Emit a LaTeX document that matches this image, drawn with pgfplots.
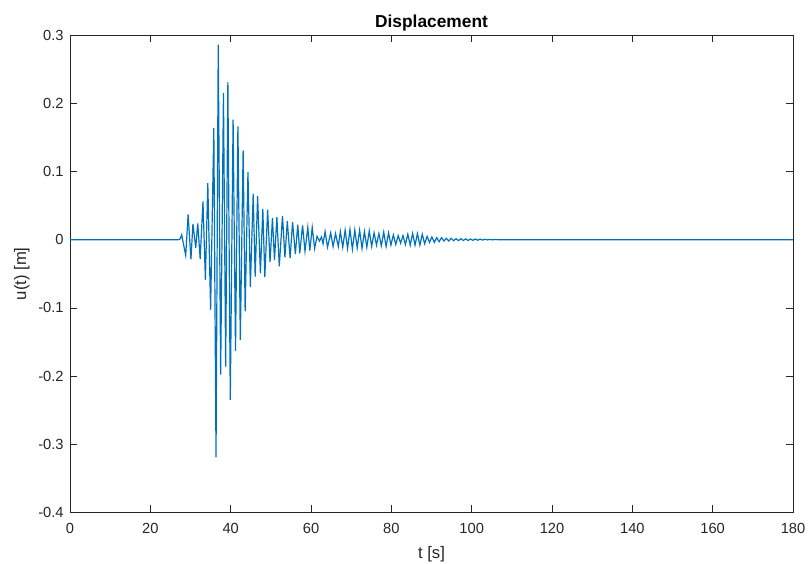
\documentclass[border=0pt]{standalone}
\usepackage{fontspec}
\setmainfont{Liberation Sans}
\usepackage{pgfplots}
\pgfplotsset{compat=1.18}
\definecolor{mblue}{rgb}{0,0.447,0.741}
\definecolor{axgray}{rgb}{0.15,0.15,0.15}
\begin{document}
\fontsize{11}{13}\selectfont
\begin{tikzpicture}
\path[use as bounding box] (-52.5pt,-38.25pt) rectangle (553.25pt,384.25pt);
\begin{axis}[
  at={(0,0)}, anchor=south west,
  scale only axis, width=542pt, height=358pt,
  xmin=0, xmax=180, ymin=-0.4, ymax=0.3,
  xtick={0,20,...,180},
  xticklabels={0,20,40,60,80,100,120,140,160,180},
  ytick={-0.4,-0.3,-0.2,-0.1,0,0.1,0.2,0.3},
  yticklabels={-0.4,-0.3,-0.2,-0.1,0,0.1,0.2,0.3},
  tick align=inside,
  major tick length=5.5pt,
  axis line style={axgray, line width=0.5pt},
  every tick/.style={axgray, line width=0.5pt},
  tick label style={font=\fontsize{11}{13}\selectfont, text=axgray},
  xticklabel style={yshift=-4pt},
  yticklabel style={xshift=-1pt},
  title={\bfseries Displacement},
  title style={font=\fontsize{13}{15}\selectfont, at={(0.5,1)}, anchor=base, yshift=-0.5pt},
  xlabel={t [s]},
  ylabel={u(t) [m]},
  xlabel style={font=\fontsize{12.5}{14}\selectfont, text=axgray, yshift=-2pt},
  ylabel style={font=\fontsize{12.5}{14}\selectfont, text=axgray, yshift=-1pt},
]
\addplot[mblue, line width=0.9pt] coordinates {
(0,0) (27.0,0) (27.4,0.001) (27.8,0.007) (28.8,-0.023) (29.4,0.037) (30.1,-0.029)
(30.6,0.023) (31.3,-0.012) (31.8,0.024) (32.4,-0.028) (33.1,0.056) (33.7,-0.059)
(34.3,0.083) (35.0,-0.103) (35.8,0.164) (36.35,-0.319) (36.9,0.286) (37.5,-0.198)
(38.2,0.215) (38.75,-0.186) (39.3,0.231) (39.9,-0.235) (40.6,0.176) (41.2,-0.163)
(41.8,0.166) (42.4,-0.147) (43.1,0.131) (43.6,-0.105) (44.3,0.099) (44.9,-0.069)
(45.6,0.067) (46.1,-0.054) (46.7,0.064) (47.4,-0.049) (48.0,0.045) (48.5,-0.055)
(49.2,0.044) (49.8,-0.033) (50.4,0.032) (50.9,-0.030) (51.5,0.033) (52.1,-0.039)
(52.9,0.035) (53.5,-0.026) (54.1,0.027) (54.8,-0.027) (55.4,0.026) (56.1,-0.021)
(56.7,0.022) (57.2,-0.020) (57.9,0.021) (58.5,-0.017) (59.2,0.018) (59.7,-0.016)
(60.3,0.018) (60.9,-0.013) (61.5,0.005) (62.1,-0.002) (62.6,0.004) (63.0,-0.006)
(63.5,0.012) (64.1,-0.011) (64.9,0.010) (65.5,-0.010) (66.1,0.009) (66.8,-0.010)
(67.3,0.012) (67.9,-0.011) (68.5,0.014) (69.1,-0.013) (69.7,0.015) (70.3,-0.014)
(70.9,0.014) (71.5,-0.012) (72.1,0.014) (72.7,-0.013) (73.3,0.012) (73.9,-0.011)
(74.5,0.013) (75.1,-0.010) (75.7,0.010) (76.3,-0.008) (76.9,0.009) (77.5,-0.009)
(78.1,0.011) (78.7,-0.010) (79.3,0.010) (79.9,-0.008) (80.5,0.007) (81.1,-0.007)
(81.7,0.006) (82.3,-0.005) (82.9,0.006) (83.5,-0.007) (84.1,0.008) (84.7,-0.008)
(85.3,0.009) (85.9,-0.008) (86.5,0.009) (87.1,-0.008) (87.7,0.008) (88.3,-0.006)
(88.9,0.005) (89.5,-0.004) (90.1,0.004) (90.7,-0.004) (91.3,0.003) (91.9,-0.003)
(92.5,0.003) (93.1,-0.002) (93.7,0.002) (94.3,-0.002) (94.9,0.002) (95.5,-0.0015)
(96.1,0.0015) (96.7,-0.0015) (97.3,0.0015) (97.9,-0.0012) (98.5,0.0012) (99.1,-0.0012)
(99.7,0.001) (100.3,-0.001) (100.9,0.001) (101.5,-0.0008) (102.1,0.0008) (102.7,-0.0006)
(103.3,0.0006) (103.9,-0.0004) (104.5,0.0004) (105.1,-0.0003) (105.7,0.0002) (106.5,0)
(180,0)
};
\end{axis}
\end{tikzpicture}
\end{document}
